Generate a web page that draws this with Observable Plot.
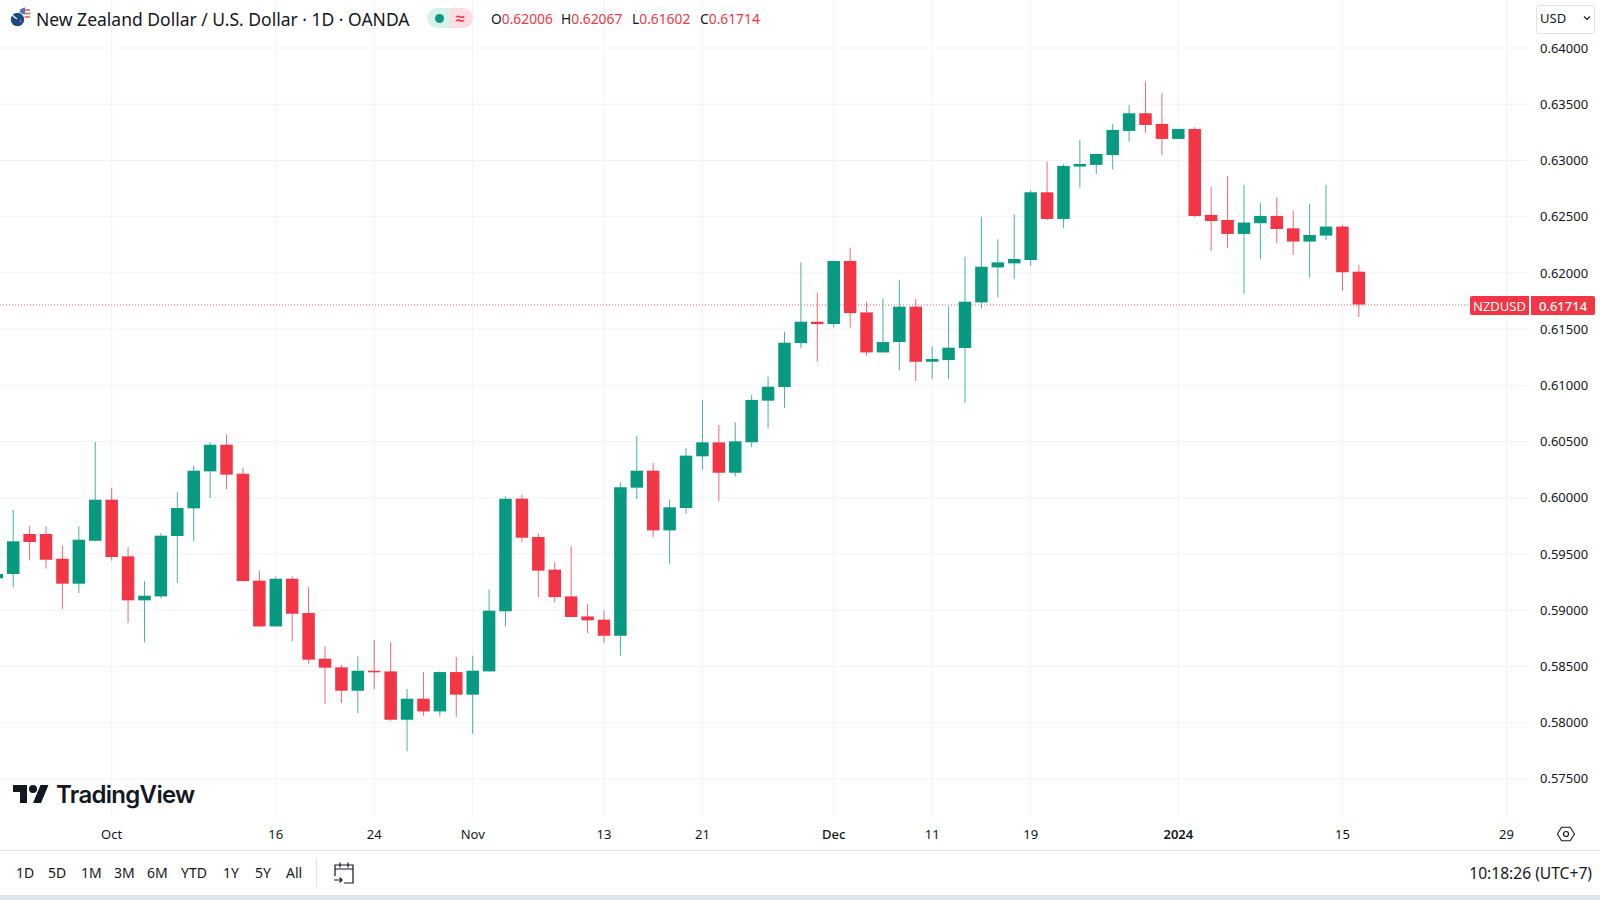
<!DOCTYPE html>
<html><head><meta charset="utf-8">
<script src="https://cdn.jsdelivr.net/npm/d3@7"></script>
<script src="https://cdn.jsdelivr.net/npm/@observablehq/plot@0.6"></script>
<style>
html,body{margin:0;padding:0;background:#fff;width:1600px;height:900px;overflow:hidden}
body{font-family:"Noto Sans",sans-serif;color:#131722;position:relative}
#chart{position:absolute;left:0;top:0}
.t{position:absolute;white-space:nowrap;line-height:20px}
.r{color:#f23645}
svg.i{position:absolute;overflow:visible}
.box{position:absolute}
</style></head><body>
<div id="chart"></div>
<svg class="i" style="left:0;top:0" width="40" height="36">
  <circle cx="25" cy="13.5" r="6" fill="#f4f4f6"/>
  <path d="M20 10h10M19.5 13.5h11M20 17h10" stroke="#e2604f" stroke-width="1.6"/>
  <path d="M19.5 14a6 6 0 0 1 5.5-6.500V14z" fill="#4a78b8"/>
  <circle cx="17.500" cy="19.500" r="7.500" fill="#fff"/>
  <circle cx="17.500" cy="19.500" r="6.700" fill="#1d4a86"/>
  <path d="M12 15l5 4" stroke="#e8eef5" stroke-width="1.500"/>
  <circle cx="20.500" cy="21" r="1.100" fill="#e2604f"/>
</svg>
<div class="t" style="left:36px;top:8.500px;font-size:17.500px" id="title">New Zealand Dollar / U.S. Dollar · 1D · OANDA</div>
<div class="box" style="left:427px;top:8px;width:23px;height:20px;background:#d8f1ea;border-radius:10px 0 0 10px"></div>
<div class="box" style="left:450px;top:8px;width:23px;height:20px;background:#fcdde1;border-radius:0 10px 10px 0"></div>
<div class="box" style="left:435px;top:13.500px;width:9px;height:9px;background:#089981;border-radius:50%"></div>
<div class="t r" style="left:453px;top:8px;font-size:16px;font-weight:700;width:15px;text-align:center">≈</div>
<div class="t" style="left:491px;top:9px;font-size:13.800px">O<span class="r">0.62006</span></div>
<div class="t" style="left:561px;top:9px;font-size:13.800px">H<span class="r">0.62067</span></div>
<div class="t" style="left:632px;top:9px;font-size:13.800px">L<span class="r">0.61602</span></div>
<div class="t" style="left:700px;top:9px;font-size:13.800px">C<span class="r">0.61714</span></div>
<div class="box" style="left:1536px;top:5px;width:57px;height:27px;border:1px solid #e0e3eb;border-radius:3px;background:#fff"></div>
<div class="t" style="left:1540px;top:8px;font-size:13px">USD</div>
<svg class="i" style="left:1583px;top:15px" width="8" height="6"><path d="M1 1.500l3 3 3-3" fill="none" stroke="#131722" stroke-width="1.200"/></svg>
<div class="box" style="left:1470px;top:296px;width:59px;height:19px;background:#f23645;border-radius:2px 0 0 2px"></div>
<div class="box" style="left:1531px;top:296px;width:64px;height:19px;background:#f23645;border-radius:0 2px 2px 0"></div>
<div class="t" style="left:1470px;top:295.500px;width:59px;text-align:center;color:#fff;font-size:13px">NZDUSD</div>
<div class="t" style="left:1531px;top:295.500px;width:64px;text-align:center;color:#fff;font-size:13px;font-weight:500">0.61714</div>
<svg class="i" style="left:13px;top:781px" width="36" height="28" viewBox="0 0 36 28"><path d="M14 22H7V11H0V4h14v18zM28 22h-8l7.500-18h8L28 22z" fill="#131722"/><circle cx="20" cy="8" r="4" fill="#131722"/></svg>
<div class="t" style="left:56px;top:783px;font-family:Inter,sans-serif;font-size:24px;font-weight:600;line-height:24px;letter-spacing:-.7px">TradingView</div>
<svg class="i" style="left:1556px;top:824px" width="20" height="20"><path d="M5 2.500h9.500l5 7.500-5 7.500H5L.5 10z" transform="translate(1 1) scale(.9)" fill="none" stroke="#131722" stroke-width="1.200"/><circle cx="10" cy="10" r="2.500" fill="none" stroke="#131722" stroke-width="1.200"/></svg>
<div class="box" style="left:0;top:850px;width:1600px;height:1px;background:#e0e3eb"></div>
<div id="ranges"></div>
<div class="box" style="left:316px;top:858px;width:1px;height:29px;background:#e0e3eb"></div>
<svg class="i" style="left:332px;top:861px" width="24" height="24"><path d="M3 15V4h18v18h-9M3 8h18M8 1.500v5M16 1.500v5M2 19h8M7.500 16.500L10 19l-2.500 2.500" fill="none" stroke="#131722" stroke-width="1.200"/></svg>
<div class="t" style="right:8px;top:863px;font-size:15.600px">10:18:26 (UTC+7)</div>
<div class="box" style="left:0;top:895px;width:1600px;height:5px;background:#dfe3ee"></div>
<script>
const ranges = ["1D","5D","1M","3M","6M","YTD","1Y","5Y","All"];
const rangeX = [16,48,81,114,147,181,223,255,286];

// Session index -1 .. 82 (daily candles, Sep 2023 to 16 Jan 2024)
const opens = [.59279,
.59317,.59673,.59673,.59453,.59231,.59613,.59978,.59474,.59083,.59118,
.59655,.59901,.6023,.60467,.60209,.59258,.58851,.59275,.5897,.58564,
.58487,.58279,.58457,.58451,.58021,.58208,.58095,.58445,.58244,.58451,
.58985,.59987,.59646,.59356,.59118,.5894,.58911,.58768,.60085,.60236,
.59705,.59904,.60364,.60488,.60218,.60489,.60859,.6098,.61371,.61561,
.6154,.62101,.61644,.61288,.6138,.61695,.61205,.6122,.61327,.61733,
.62044,.6208,.6211,.62712,.62475,.62941,.62956,.63044,.63258,.63415,
.6332,.63187,.63276,.62511,.62466,.62342,.62437,.62502,.62392,.62274,
.62327,.62407,.62006];
const highs = [.5935,
.59887,.59747,.59741,.59569,.59741,.60491,.60082,.59554,.59252,.59682,
.60043,.60281,.60488,.60556,.6026,.59347,.59296,.59296,.59201,.58674,
.58508,.58585,.58733,.58709,.58294,.58445,.58451,.58579,.58591,.59178,
.60008,.60023,.59682,.59424,.59563,.5905,.58994,.60132,.60547,.60304,
.59978,.60438,.60865,.60643,.60666,.60909,.61072,.61472,.62089,.61819,
.62105,.62219,.61739,.61769,.61932,.61763,.61339,.61695,.62139,.62495,
.62294,.62516,.62733,.62985,.62961,.63178,.63056,.6332,.63489,.63697,
.63593,.63276,.63291,.62763,.62858,.62778,.6262,.62668,.62549,.62609,
.62778,.62422,.62067];
const lows = [.5925,
.59198,.59439,.59364,.59006,.59148,.59608,.59436,.58881,.58709,.59101,
.59237,.59608,.59993,.60073,.59249,.58846,.58851,.58718,.58519,.58164,
.5817,.58081,.58294,.58012,.5774,.58057,.58051,.58045,.57897,.58451,
.58851,.59602,.59112,.59065,.58935,.58792,.58703,.58591,.59984,.59643,
.59409,.59854,.60245,.59963,.60186,.60444,.60613,.60796,.61324,.61205,
.61511,.61508,.61259,.61288,.61131,.61033,.61051,.61051,.60841,.6168,
.61778,.61941,.62057,.62466,.62392,.62754,.62873,.62917,.63163,.63243,
.63044,.63187,.6249,.62191,.62214,.61808,.62119,.62259,.62155,.61953,
.62288,.61835,.61602];
const closes = [.59318,
.59608,.59602,.59444,.59231,.59622,.59978,.59468,.59083,.59124,.59658,
.59904,.60236,.60467,.60201,.59255,.58851,.59275,.58964,.58555,.58484,
.58279,.58457,.58443,.58021,.58208,.58095,.58445,.58244,.58457,.58991,
.59987,.5964,.59347,.59112,.58935,.58905,.58768,.60088,.60236,.59705,
.5991,.6037,.60488,.60218,.60497,.60865,.60983,.61374,.61561,.6154,
.62101,.61638,.61288,.6138,.61695,.61205,.61229,.6133,.61739,.6205,
.62089,.62119,.62712,.62475,.62947,.62964,.63053,.63267,.63415,.63311,
.63187,.63276,.62502,.62457,.62342,.62443,.62502,.62386,.62274,.62333,
.62407,.62001,.61714];
const lastClose = 0.61714;
const priceTicks = [.575,.58,.585,.59,.595,.6,.605,.61,.615,.62,.625,.63,.635,.64];
const tickIndex = [6,16,22,28,36,42,50,56,62,71,81,91];
const tickNames = ["Oct","16","24","Nov","13","21","Dec","11","19","2024","15","29"];
const mediumNames = ["Dec"];
const boldNames = ["2024"];

const GREEN = "#089981", RED = "#f23645", GRID = "#f0f3fa";
const candles = opens.map((o,i)=>({i:i-1,o,h:highs[i],l:lows[i],c:closes[i],color:closes[i]>=o?GREEN:RED}));
const nameOf = new Map(tickIndex.map((t,i)=>[t,tickNames[i]]));
const fmtX = d => nameOf.get(d);
const isMedium = d => mediumNames.includes(nameOf.get(d));
const isBold = d => boldNames.includes(nameOf.get(d));

const plot = Plot.plot({
  width:1600, height:900,
  marginLeft:0, marginRight:70, marginTop:0, marginBottom:83,
  style:{fontFamily:'"Noto Sans",sans-serif',fontSize:"13px",color:"#131722",background:"transparent"},
  x:{type:"linear",domain:[-0.774,92.46]},
  y:{type:"linear",domain:[0.57156,0.644224]},
  marks:[
    Plot.gridY(priceTicks,{stroke:GRID,strokeOpacity:1}),
    Plot.gridX(tickIndex,{stroke:GRID,strokeOpacity:1}),
    Plot.ruleY([lastClose],{stroke:RED,strokeWidth:1,strokeDasharray:"1 2",strokeOpacity:.8}),
    Plot.ruleX(candles,{x:"i",y1:"l",y2:"h",stroke:"color",strokeWidth:1,strokeOpacity:.75}),
    Plot.ruleX(candles,{x:"i",y1:"o",y2:"c",stroke:"color",strokeWidth:12.5}),
    Plot.axisY(priceTicks,{anchor:"right",tickSize:0,tickPadding:9.5,label:null,tickFormat:d3.format(".5f"),fontSize:13,dy:0.5}),
    Plot.axisX(tickIndex.filter(d=>!isBold(d)&&!isMedium(d)),{anchor:"bottom",tickSize:0,tickPadding:12,label:null,tickFormat:fmtX,fontSize:13}),
    Plot.axisX(tickIndex.filter(isMedium),{anchor:"bottom",tickSize:0,tickPadding:12,label:null,tickFormat:fmtX,fontSize:13,fontWeight:500}),
    Plot.axisX(tickIndex.filter(isBold),{anchor:"bottom",tickSize:0,tickPadding:12,label:null,tickFormat:fmtX,fontSize:13,fontWeight:600})
  ]
});
document.getElementById("chart").append(plot);
document.getElementById("ranges").innerHTML = ranges.map((r,k)=>
  `<div class="t" style="left:${rangeX[k]}px;top:863px;font-size:14px">${r}</div>`).join("");
</script>
</body></html>
